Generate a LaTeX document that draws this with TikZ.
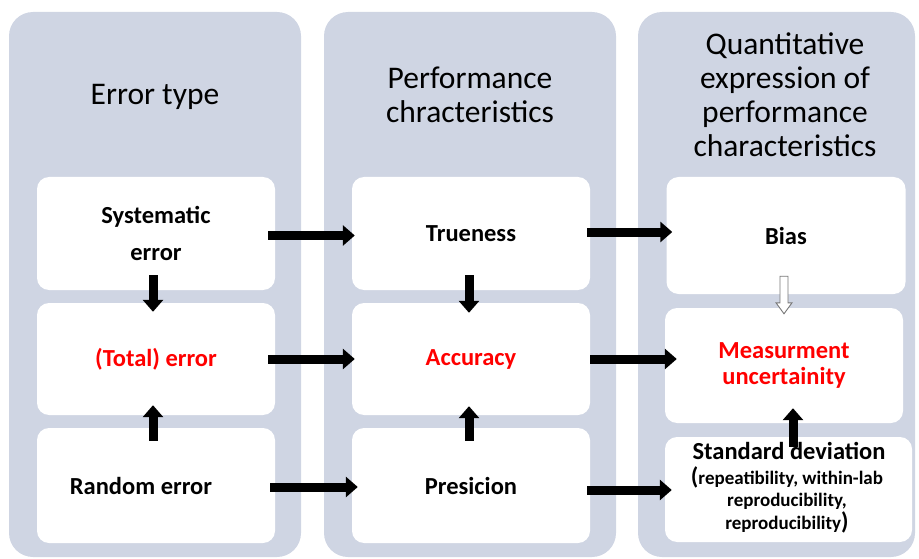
\documentclass[tikz,border=0pt]{standalone}
\usepackage{fontspec}
\setmainfont{Carlito}
\usetikzlibrary{arrows.meta}
\definecolor{panelbg}{RGB}{207,213,227}
\definecolor{hotred}{RGB}{255,0,0}
\definecolor{hollowedge}{RGB}{120,120,120}
\tikzset{
  panel/.style={fill=panelbg, rounded corners=24pt},
  card/.style={fill=white, rounded corners=12pt, inner sep=0pt, align=center,
    font=\bfseries\fontsize{24.5}{37}\selectfont},
  headtxt/.style={align=center, font=\fontsize{31.5}{34}\selectfont},
  fat/.style={line width=9pt, -{Triangle[length=12pt,width=20pt]}},
  hollow/.style={draw=hollowedge, fill=white, line width=0.9pt}
}
\begin{document}
\begin{tikzpicture}[x=1pt,y=-1pt]
\useasboundingbox (0,0) rectangle (919,559);
% column panels
\fill[panel] (9,12) rectangle (301,557);
\fill[panel] (324,12) rectangle (616,557);
\fill[panel] (638,12) rectangle (915,557);
% column headings
\node[headtxt] (h1) at (155,97) {Error type};
\node[headtxt] (h2) at (470,95) {Performance\\chracteristics};
\node[headtxt] (h3) at (785,95) {Quantitative\\expression of\\performance\\characteristics};
% first column
\node[card, minimum width=238pt, minimum height=113pt] (sys) at (156,233.5) {Systematic\\error};
\node[card, minimum width=238pt, minimum height=112pt, text=hotred] (tot) at (156,359) {(Total) error};
\node[card, minimum width=238pt, minimum height=115pt] (rnd) at (156,485.5) {\hspace*{-30pt}Random error};
% second column
\node[card, minimum width=238pt, minimum height=113pt] (tru) at (471,233.5) {Trueness};
\node[card, minimum width=238pt, minimum height=112pt, text=hotred] (acc) at (471,359) {Accuracy};
\node[card, minimum width=238pt, minimum height=115pt] (pre) at (471,485.5) {Presicion};
% third column
\node[card, minimum width=239pt, minimum height=117pt] (bias) at (786,235.5) {Bias};
\node[card, minimum width=238pt, minimum height=115pt, text=hotred,
  font=\bfseries\fontsize{24.5}{26}\selectfont] (mu) at (784,365.5) {Measurment\\uncertainity};
\node[card, minimum width=247pt, minimum height=105pt] (sd) at (788.5,489.5) {};
% arrow from the deviation card up to the uncertainty card (under its text)
\draw[fat] ([xshift=4.5pt,yshift=-10pt]sd.north) -- ([xshift=4.5pt,yshift=15pt]sd.north |- mu.south);
\node[align=center, inner sep=0pt, font=\bfseries\fontsize{24.5}{26}\selectfont] (sdt) at (789,451) {Standard deviation};
\node[align=center, inner sep=0pt, font=\bfseries\fontsize{19}{22.5}\selectfont, anchor=north] (sdl)
  at (787,466) {{\fontsize{24}{22}\selectfont(}repeatibility, within-lab\\reproducibility,\\reproducibility{\fontsize{24}{22}\selectfont)}};
% horizontal links between columns
\draw[fat] ([xshift=-7pt,yshift=-2pt]sys.east) -- ([xshift=3pt,yshift=-2pt]tru.west);
\draw[fat] ([xshift=-7pt]tot.east) -- ([xshift=3pt]tot.east -| acc.west);
\draw[fat] ([xshift=-5pt,yshift=-1.5pt]rnd.east) -- ([xshift=6pt,yshift=-1.5pt]rnd.east -| pre.west);
\draw[fat] ([xshift=-3pt,yshift=1.5pt]tru.east) -- ([xshift=6pt,yshift=1.5pt]tru.east -| bias.west);
\draw[fat] ([xshift=0pt]acc.east) -- ([xshift=12pt]acc.east -| mu.west);
\draw[fat] ([xshift=-3pt,yshift=-4.5pt]pre.east) -- ([xshift=7pt,yshift=-4.5pt]pre.east -| sd.west);
% vertical links inside columns
\draw[fat] ([xshift=-3pt,yshift=15pt]sys.south) -- ([xshift=-3pt,yshift=-9pt]sys.south |- tot.north);
\draw[fat] ([xshift=-3pt,yshift=-13pt]rnd.north) -- ([xshift=-3pt,yshift=10pt]rnd.north |- tot.south);
\draw[fat] ([xshift=-2pt,yshift=15pt]tru.south) -- ([xshift=-2pt,yshift=-10pt]tru.south |- acc.north);
\draw[fat] ([xshift=-2pt,yshift=-13pt]pre.north) -- ([xshift=-2pt,yshift=9pt]pre.north |- acc.south);
% hollow arrow from bias to uncertainty
\coordinate (ht) at ([xshift=-2pt,yshift=18pt]bias.south);
\coordinate (hb) at ([xshift=-2pt,yshift=-6pt]bias.south |- mu.north);
\draw[hollow] ([xshift=-4pt]ht) -- ([xshift=4pt]ht) -- ([xshift=4pt,yshift=11pt]hb)
  -- ([xshift=8pt,yshift=11pt]hb) -- (hb) -- ([xshift=-8pt,yshift=11pt]hb)
  -- ([xshift=-4pt,yshift=11pt]hb) -- cycle;
\end{tikzpicture}
\end{document}
